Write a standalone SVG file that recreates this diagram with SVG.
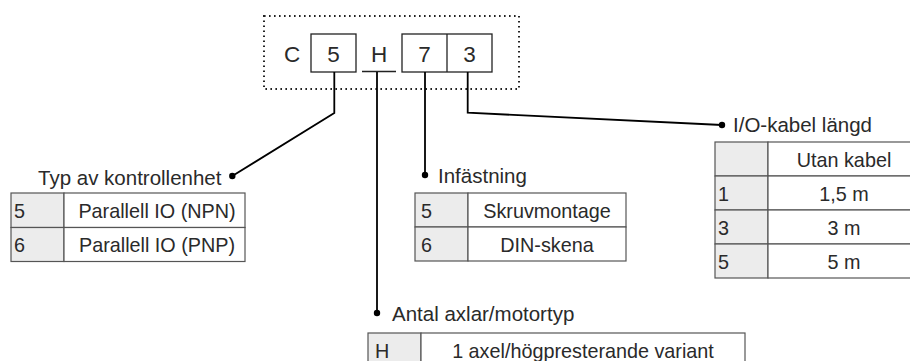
<svg xmlns="http://www.w3.org/2000/svg" width="910" height="361" viewBox="0 0 910 361">
<style>
text{font-family:"Liberation Sans",Arial,sans-serif;fill:#2a2a2a}
.lbl{font-size:20.5px}
.cell{font-size:19.8px}
.code{font-size:22.5px}
.mid{text-anchor:middle}
.box{fill:#fff;stroke:#222;stroke-width:1.3}
.tb{fill:#fff;stroke:#555;stroke-width:1.2}
.key{fill:#ececec;stroke:#555;stroke-width:1.2}
.con{fill:none;stroke:#000;stroke-width:1.8}
.dot{fill:#000}
</style>
<rect width="910" height="361" fill="#fff"/>
<g id="code">
<rect x="264" y="16" width="255" height="73" fill="none" stroke="#222" stroke-width="2" stroke-dasharray="1.6 3.4"/>
<text class="code mid" x="292" y="62">C</text>
<rect class="box" x="311" y="34" width="45" height="38"/>
<text class="code mid" x="333.5" y="62">5</text>
<line x1="362" y1="71.5" x2="396" y2="71.5" stroke="#222" stroke-width="1.3"/>
<text class="code mid" x="379" y="62">H</text>
<rect class="box" x="402" y="34" width="90" height="38"/>
<line x1="447" y1="34" x2="447" y2="72" stroke="#222" stroke-width="1.3"/>
<text class="code mid" x="424.5" y="62">7</text>
<text class="code mid" x="469.5" y="62">3</text>
</g>
<g id="connectors">
<polyline class="con" points="334.3,72 334.3,113 232.3,176"/>
<circle class="dot" cx="232.3" cy="176" r="3.2"/>
<polyline class="con" points="377,72 377,313"/>
<circle class="dot" cx="377" cy="313" r="3.2"/>
<polyline class="con" points="425,72 425,175"/>
<circle class="dot" cx="425" cy="175" r="3.2"/>
<polyline class="con" points="467.7,72 467.7,112.7 722,125"/>
<circle class="dot" cx="722" cy="125" r="3.2"/>
</g>
<g id="typ">
<text class="lbl" x="38" y="185">Typ av kontrollenhet</text>
<rect class="key" x="11" y="193" width="53" height="34.5"/>
<rect class="tb" x="64" y="193" width="181" height="34.5"/>
<rect class="key" x="11" y="227.5" width="53" height="34"/>
<rect class="tb" x="64" y="227.5" width="181" height="34"/>
<text class="cell" x="14" y="218">5</text>
<text class="cell mid" x="157" y="218">Parallell IO (NPN)</text>
<text class="cell" x="14" y="252">6</text>
<text class="cell mid" x="157" y="252">Parallell IO (PNP)</text>
</g>
<g id="infastning">
<text class="lbl" x="438" y="183">Infästning</text>
<rect class="key" x="415" y="193" width="53" height="34"/>
<rect class="tb" x="468" y="193" width="158" height="34"/>
<rect class="key" x="415" y="227" width="53" height="34"/>
<rect class="tb" x="468" y="227" width="158" height="34"/>
<text class="cell" x="421" y="218">5</text>
<text class="cell mid" x="547" y="218">Skruvmontage</text>
<text class="cell" x="421" y="252">6</text>
<text class="cell mid" x="547" y="252">DIN-skena</text>
</g>
<g id="kabel">
<text class="lbl" x="733" y="132">I/O-kabel längd</text>
<rect class="key" x="715" y="142" width="53" height="34"/>
<rect class="tb" x="768" y="142" width="152" height="34"/>
<rect class="key" x="715" y="176" width="53" height="34"/>
<rect class="tb" x="768" y="176" width="152" height="34"/>
<rect class="key" x="715" y="210" width="53" height="34"/>
<rect class="tb" x="768" y="210" width="152" height="34"/>
<rect class="key" x="715" y="244" width="53" height="34"/>
<rect class="tb" x="768" y="244" width="152" height="34"/>
<text class="cell mid" x="844" y="167">Utan kabel</text>
<text class="cell" x="718" y="201">1</text>
<text class="cell mid" x="844" y="201">1,5 m</text>
<text class="cell" x="718" y="235">3</text>
<text class="cell mid" x="844" y="235">3 m</text>
<text class="cell" x="718" y="269">5</text>
<text class="cell mid" x="844" y="269">5 m</text>
</g>
<g id="antal">
<text class="lbl" x="392" y="321">Antal axlar/motortyp</text>
<rect class="key" x="368" y="333" width="53" height="34"/>
<rect class="tb" x="421" y="333" width="324" height="34"/>
<text class="cell" x="375" y="358">H</text>
<text class="cell mid" x="583" y="358">1 axel/högpresterande variant</text>
</g>
</svg>
